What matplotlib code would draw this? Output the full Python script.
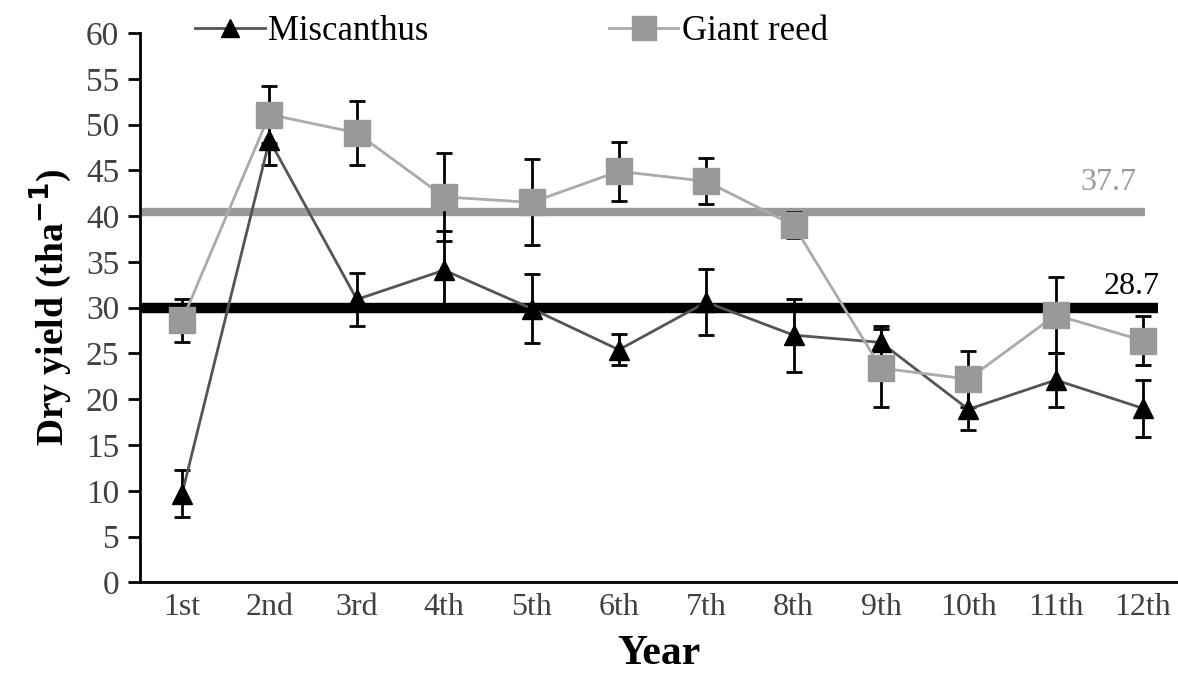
import matplotlib
matplotlib.use("Agg")
import matplotlib.pyplot as plt
import numpy as np

plt.rcParams["font.family"] = ["Liberation Serif", "DejaVu Serif"]

years = ["1st", "2nd", "3rd", "4th", "5th", "6th", "7th", "8th", "9th", "10th", "11th", "12th"]

misc_mean = [9.7, 48.3, 30.9, 34.1, 29.9, 25.4, 30.6, 27.0, 26.2, 18.9, 22.1, 19.0]
misc_err = [2.6, 2.7, 2.9, 4.3, 3.8, 1.7, 3.6, 4.0, 1.8, 2.3, 3.0, 3.1]

reed_mean = [28.6, 51.1, 49.1, 42.1, 41.5, 44.9, 43.8, 39.0, 23.4, 22.2, 29.2, 26.4]
reed_err = [2.4, 3.1, 3.5, 4.8, 4.7, 3.2, 2.5, 1.4, 4.3, 3.1, 4.1, 2.7]

# mean lines (drawn position) and their printed labels
reed_avg_y = 40.5
misc_avg_y = 30.0
reed_avg_label = "37.7"
misc_avg_label = "28.7"

x = np.arange(1, len(years) + 1)

fig = plt.figure(figsize=(11.78, 6.74), dpi=100)
ax = fig.add_axes([0.119, 0.136, 0.881, 0.815])

ax.hlines(reed_avg_y, 0.52, 12.02, color="#9a9a9a", lw=6, zorder=1)
ax.hlines(misc_avg_y, 0.52, 12.17, color="black", lw=7.5, zorder=1)

ax.errorbar(x, reed_mean, yerr=reed_err, fmt="none", ecolor="black",
            elinewidth=2, capsize=6, capthick=2, zorder=2)
ax.errorbar(x, misc_mean, yerr=misc_err, fmt="none", ecolor="black",
            elinewidth=2, capsize=6, capthick=2, zorder=2)

ax.plot(x, misc_mean, color="#555555", lw=2, marker="^", ms=14,
        mfc="black", mec="black", label="Miscanthus", zorder=3)
ax.plot(x, reed_mean, color="#aaaaaa", lw=2, marker="s", ms=19,
        mfc="#999999", mec="#999999", label="Giant reed", zorder=3)

ax.text(11.6, reed_avg_y + 3.2, reed_avg_label, color="#999999",
        fontsize=23, ha="center", va="center")
ax.text(11.87, misc_avg_y + 2.3, misc_avg_label, color="black",
        fontsize=23, ha="center", va="center")

ax.set_xlim(0.52, 12.4)
ax.set_ylim(0, 60)
ax.set_yticks(np.arange(0, 61, 5))
ax.set_xticks(x)
ax.set_xticklabels(years)

for s in ["top", "right"]:
    ax.spines[s].set_visible(False)
ax.spines["left"].set_linewidth(2)
ax.spines["bottom"].set_linewidth(2)

ax.tick_params(axis="y", direction="out", length=9, width=2,
               labelsize=24, labelcolor="#404040", pad=6)
ax.tick_params(axis="x", length=0, labelsize=23, labelcolor="#404040", pad=8)

ax.set_ylabel("Dry yield (tha$^{\\mathbf{-1}}$)", fontsize=27,
              fontweight="bold", labelpad=8)
ax.set_xlabel("Year", fontsize=30, fontweight="bold", labelpad=9)

ax.legend(loc="center left", bbox_to_anchor=(0.053, 1.002), ncol=2,
          frameon=False, fontsize=25, handlelength=2.0, handletextpad=0.1,
          columnspacing=5.2, markerscale=0.9, borderpad=0, borderaxespad=0)

fig.savefig("out.png", dpi=100)
